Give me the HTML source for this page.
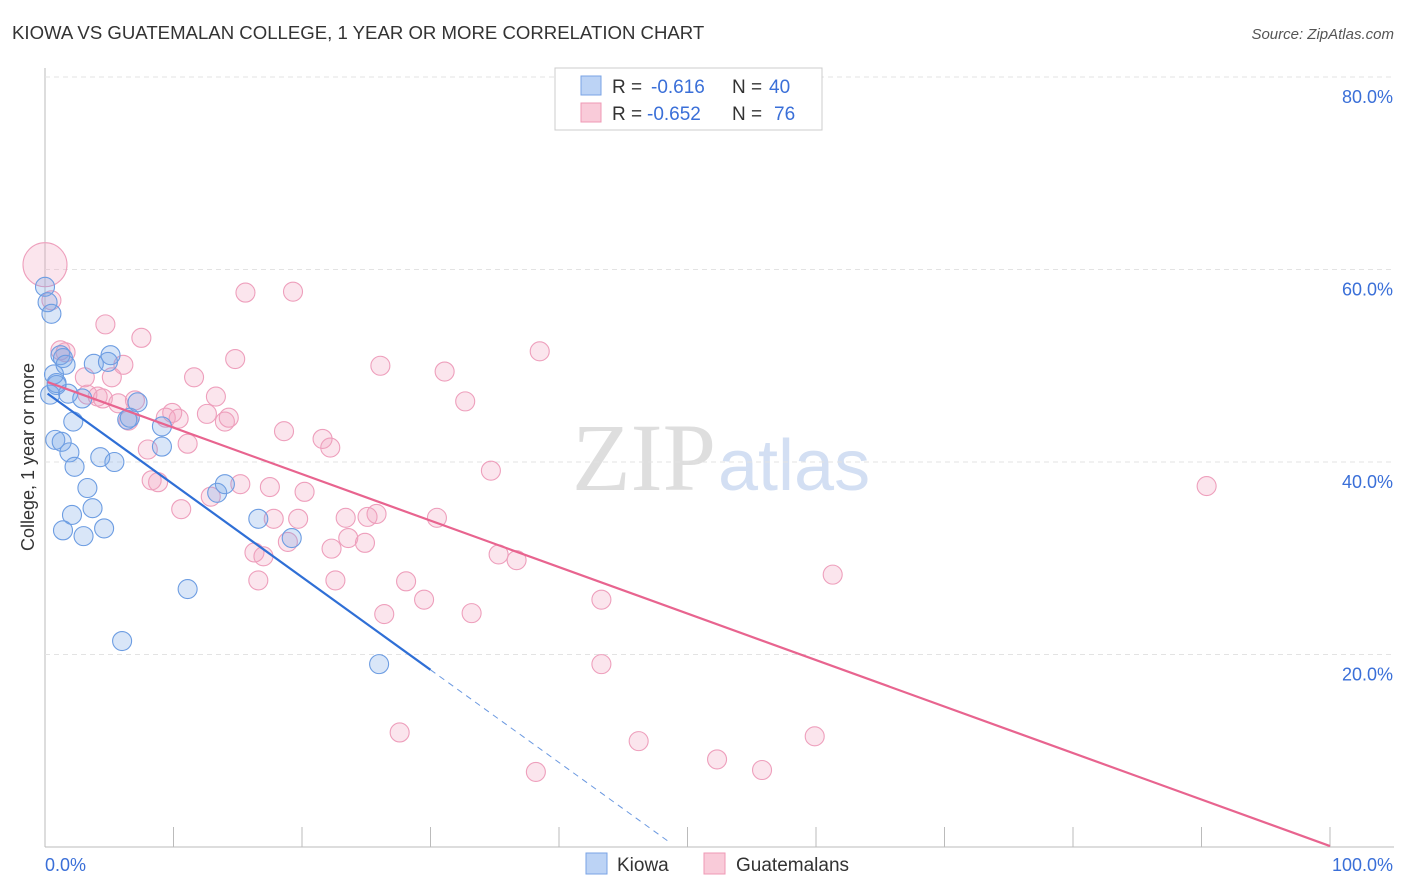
<!DOCTYPE html>
<html><head><meta charset="utf-8"><style>
body{margin:0;background:#fff;font-family:"Liberation Sans",sans-serif;}
svg{display:block}
</style></head><body>
<svg id="c" width="1406" height="892">
<text x="12" y="39" font-size="18.6" fill="#333">KIOWA VS GUATEMALAN COLLEGE, 1 YEAR OR MORE CORRELATION CHART</text>
<text x="1394" y="39" font-size="15" fill="#555" font-style="italic" text-anchor="end">Source: ZipAtlas.com</text>
<text x="716" y="490" font-size="96" fill="#dedede" text-anchor="end" font-family="Liberation Serif,serif">ZIP</text>
<text x="718" y="490" font-size="72" fill="#d3dff3">atlas</text>
<text transform="translate(34,457) rotate(-90)" font-size="18" fill="#333" text-anchor="middle">College, 1 year or more</text>
<g id="grid"></g><g id="pts"></g><g id="lines"></g>
<g>
<rect x="555" y="68" width="267" height="62" fill="#fff" stroke="#ccc"/>
<rect x="581" y="76" width="20" height="19" fill="#bcd3f5" stroke="#7aa3e5"/>
<rect x="581" y="103" width="20" height="19" fill="#f9cbd9" stroke="#ef98b5"/>
<text y="93" font-size="19" fill="#333"><tspan x="612">R =</tspan><tspan x="651" fill="#3a6fd8">-0.616</tspan><tspan x="732">N =</tspan><tspan x="769" fill="#3a6fd8">40</tspan></text>
<text y="120" font-size="19" fill="#333"><tspan x="612">R =</tspan><tspan x="647" fill="#3a6fd8">-0.652</tspan><tspan x="732">N =</tspan><tspan x="774" fill="#3a6fd8">76</tspan></text>
</g>
<g>
<rect x="586" y="853" width="21" height="21" fill="#bcd3f5" stroke="#7aa3e5"/>
<text x="617" y="871" font-size="19" fill="#333">Kiowa</text>
<rect x="704" y="853" width="21" height="21" fill="#f9cbd9" stroke="#ef98b5"/>
<text x="736" y="871" font-size="19" fill="#333">Guatemalans</text>
</g>
<text x="45" y="871" font-size="18" fill="#3a6fd8">0.0%</text>
<text x="1393" y="871" font-size="18" fill="#3a6fd8" text-anchor="end">100.0%</text>
</svg>
<script>
const yTicks=[20,40,60,80];
const xTicks=[0,10,20,30,40,50,60,70,80,90,100];
const kiowaX=[0,0.2,0.5,0.9,0.7,1.2,1.4,1.6,1.8,0.8,1.3,1.9,2.3,2.2,3.3,3.7,2.1,1.4,3.0,4.6,4.3,5.4,3.8,4.9,5.1,6.6,7.2,9.1,9.1,6.0,11.1,13.4,14.0,16.6,19.2,26.0,2.9,6.4,0.4,0.9];
const kiowaY=[58.2,56.6,55.4,48.2,49.1,51.1,50.8,50.1,47.1,42.3,42.1,41.0,39.5,44.2,37.3,35.2,34.5,32.9,32.3,33.1,40.5,40.0,50.2,50.4,51.1,44.6,46.2,43.7,41.6,21.4,26.8,36.8,37.7,34.1,32.1,19.0,46.6,44.4,47.0,48.0];
const guatX=[0.5,1.2,1.6,4.7,7.5,3.1,5.2,6.1,4.1,3.3,4.5,5.7,7.0,6.5,8.0,9.4,9.9,10.4,11.1,11.6,12.6,13.3,14.0,14.3,14.8,15.6,19.3,8.3,8.8,10.6,12.9,15.2,16.3,17.0,16.6,17.5,17.8,18.6,18.9,19.7,20.2,21.6,22.2,22.3,22.6,23.4,23.6,24.9,25.1,25.8,26.1,26.4,28.1,27.6,29.5,30.5,31.1,32.7,33.2,34.7,35.3,36.7,38.5,38.2,43.3,43.3,46.2,52.3,55.8,59.9,61.3,90.4];
const guatY=[56.8,51.6,51.4,54.3,52.9,48.8,48.8,50.1,46.8,47.0,46.6,46.1,46.4,44.3,41.3,44.6,45.1,44.5,41.9,48.8,45.0,46.8,44.2,44.6,50.7,57.6,57.7,38.1,37.9,35.1,36.4,37.7,30.6,30.2,27.7,37.4,34.1,43.2,31.7,34.1,36.9,42.4,41.5,31.0,27.7,34.2,32.1,31.6,34.3,34.6,50.0,24.2,27.6,11.9,25.7,34.2,49.4,46.3,24.3,39.1,30.4,29.8,51.5,7.8,25.7,19.0,11.0,9.1,8.0,11.5,28.3,37.5];
const bigX=[0],bigY=[60.5];
const kiowaTrend=[47.3,-0.963], guatTrend=[48.4,-0.483];
const sx=v=>45+v*12.85, sy=v=>847-v*9.625;
const NS='http://www.w3.org/2000/svg';
function mk(t,a,p){const e=document.createElementNS(NS,t);for(const k in a)e.setAttribute(k,a[k]);p.appendChild(e);return e;}
const grid=document.getElementById('grid');
mk('line',{x1:45,y1:68,x2:45,y2:847,stroke:'#bbb'},grid);
mk('line',{x1:45,y1:847,x2:1394,y2:847,stroke:'#bbb'},grid);
yTicks.forEach(t=>{const l=mk('line',{x1:45,y1:sy(t),x2:1394,y2:sy(t),stroke:'#e3e3e3','stroke-dasharray':'5,4'},grid);


const tx=mk('text',{x:1393,y:sy(t)+26,'font-size':18,fill:'#3a6fd8','text-anchor':'end'},grid);tx.textContent=t.toFixed(1)+'%';

});
xTicks.forEach(t=>{const l=mk('line',{x1:sx(t),y1:827,x2:sx(t),y2:847,stroke:'#bbb'},grid);

});
const pts=document.getElementById('pts');
guatX.forEach((x,i)=>{const c=mk('circle',{cx:sx(x),cy:sy(guatY[i]),r:9.5,fill:'rgba(242,160,190,0.28)',stroke:'#ee9fbc','stroke-width':1.1},pts);

});
bigX.forEach((x,i)=>{const c=mk('circle',{cx:sx(x),cy:sy(bigY[i]),r:22,fill:'rgba(242,160,190,0.28)',stroke:'#ee9fbc','stroke-width':1.1},pts);

});
kiowaX.forEach((x,i)=>{const c=mk('circle',{cx:sx(x),cy:sy(kiowaY[i]),r:9.5,fill:'rgba(120,165,230,0.28)',stroke:'#6d9de2','stroke-width':1.1},pts);

});
const ln=document.getElementById('lines');
const f=(tr,x)=>tr[0]+tr[1]*x;
let a=mk('line',{x1:sx(0.2),y1:sy(f(kiowaTrend,0.2)),x2:sx(30),y2:sy(f(kiowaTrend,30)),stroke:'#2f6fd6','stroke-width':2.2},ln);


let b=mk('line',{x1:sx(30),y1:sy(f(kiowaTrend,30)),x2:sx(48.5),y2:sy(f(kiowaTrend,48.5)),stroke:'#6a98e0','stroke-width':1,'stroke-dasharray':'6,5'},ln);


let g=mk('line',{x1:sx(0.2),y1:sy(f(guatTrend,0.2)),x2:sx(100),y2:sy(f(guatTrend,100)),stroke:'#e8648f','stroke-width':2.2},ln);


</script>
</body></html>
